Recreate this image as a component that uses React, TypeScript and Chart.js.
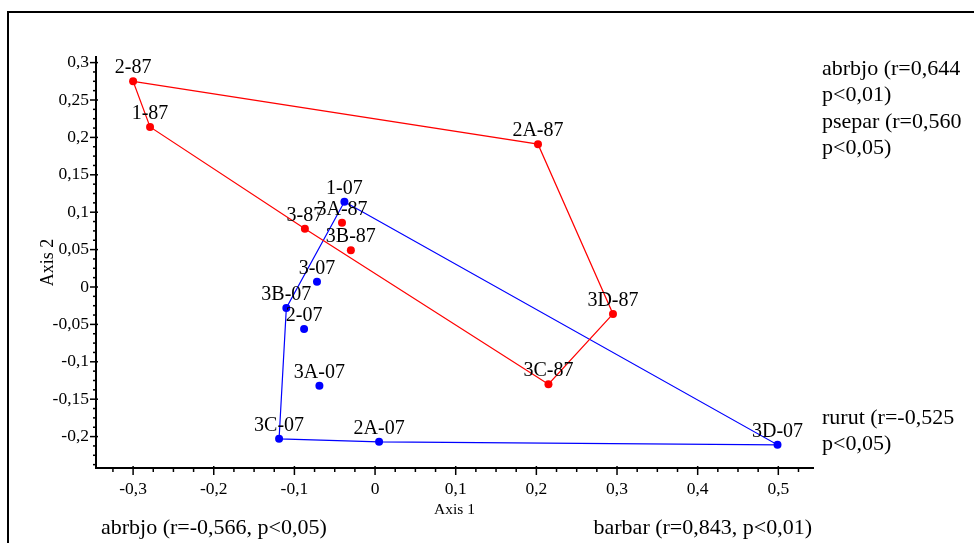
import React, { useEffect, useRef } from "react";
import { Chart, registerables } from "chart.js";

Chart.register(...registerables);

const FONT = '"Liberation Serif", "Times New Roman", serif';

// ---- data (1987) ----
const labels87 = ["2-87", "1-87", "2A-87", "3D-87", "3C-87", "3-87", "3A-87", "3B-87"];
const axis1_87 = [-0.3, -0.279, 0.202, 0.295, 0.215, -0.087, -0.041, -0.03];
const axis2_87 = [0.275, 0.214, 0.191, -0.036, -0.13, 0.078, 0.086, 0.049];
const hull87 = ["2-87", "2A-87", "3D-87", "3C-87", "3-87", "1-87", "2-87"];

// ---- data (2007) ----
const labels07 = ["1-07", "3-07", "3B-07", "2-07", "3A-07", "3C-07", "2A-07", "3D-07"];
const axis1_07 = [-0.038, -0.072, -0.11, -0.088, -0.069, -0.119, 0.005, 0.499];
const axis2_07 = [0.114, 0.007, -0.028, -0.056, -0.132, -0.203, -0.207, -0.211];
const hull07 = ["1-07", "3D-07", "2A-07", "3C-07", "3B-07", "1-07"];

// ---- annotation texts ----
const notesRightTop = ["abrbjo (r=0,644", "p<0,01)", "psepar (r=0,560", "p<0,05)"];
const notesRightBottom = ["rurut (r=-0,525", "p<0,05)"];
const noteBottomLeft = "abrbjo (r=-0,566, p<0,05)";
const noteBottomRight = "barbar (r=0,843, p<0,01)";

// ---- axis settings ----
const X_MIN = -0.346;
const X_MAX = 0.543;
const X_MAJOR = 0.1;
const X_MINOR = 0.025;
const Y_MIN = -0.242;
const Y_MAX = 0.3075;
const Y_MAJOR = 0.05;
const Y_MINOR = 0.0125;

const points = (xs: number[], ys: number[]) => xs.map((x, i) => ({ x, y: ys[i] }));
const hullPoints = (order: string[], labels: string[], xs: number[], ys: number[]) =>
  order.map((l) => {
    const i = labels.indexOf(l);
    return { x: xs[i], y: ys[i] };
  });

const steps = (min: number, max: number, step: number) => {
  const out: { value: number }[] = [];
  for (let k = Math.ceil(min / step - 1e-9); k * step <= max + 1e-9; k++) {
    out.push({ value: Math.round(k * step * 1e6) / 1e6 });
  }
  return out;
};
const isMajor = (v: number, major: number) => Math.abs(v / major - Math.round(v / major)) < 1e-6;
const fmt = (v: number) => String(Math.round(v * 100) / 100).replace(".", ",");

const tickPlugin = {
  id: "customTicks",
  afterDraw(chart: any) {
    const ctx = chart.ctx;
    const xs = chart.scales.x;
    const ys = chart.scales.y;
    const ax = chart.chartArea.left;
    const ay = chart.chartArea.bottom;
    ctx.save();
    ctx.strokeStyle = "#000";
    ctx.lineWidth = 1.5;
    ys.ticks.forEach((t: any) => {
      const p = ys.getPixelForValue(t.value);
      ctx.beginPath();
      if (isMajor(t.value, Y_MAJOR)) {
        ctx.moveTo(ax - 6, p);
        ctx.lineTo(ax + 2, p);
      } else {
        ctx.moveTo(ax - 3, p);
        ctx.lineTo(ax, p);
      }
      ctx.stroke();
    });
    xs.ticks.forEach((t: any) => {
      const p = xs.getPixelForValue(t.value);
      ctx.beginPath();
      if (isMajor(t.value, X_MAJOR)) {
        ctx.moveTo(p, ay - 2);
        ctx.lineTo(p, ay + 7);
      } else {
        ctx.moveTo(p, ay);
        ctx.lineTo(p, ay + 4);
      }
      ctx.stroke();
    });
    ctx.restore();
  },
};

const labelPlugin = {
  id: "pointLabels",
  afterDatasetsDraw(chart: any) {
    const ctx = chart.ctx;
    const sets = [labels87, labels07];
    ctx.save();
    ctx.font = `20px ${FONT}`;
    ctx.fillStyle = "#000";
    ctx.textAlign = "center";
    ctx.textBaseline = "alphabetic";
    sets.forEach((labels, di) => {
      const meta = chart.getDatasetMeta(di);
      meta.data.forEach((el: any, i: number) => {
        ctx.fillText(labels[i], el.x, el.y - 8);
      });
    });
    ctx.restore();
  },
};

const notesPlugin = {
  id: "notes",
  afterDraw(chart: any) {
    const ctx = chart.ctx;
    const area = chart.chartArea;
    ctx.save();
    ctx.font = `22px ${FONT}`;
    ctx.fillStyle = "#000";
    ctx.textBaseline = "middle";
    ctx.textAlign = "left";
    notesRightTop.forEach((t, i) => ctx.fillText(t, area.right + 9, area.top + 12 + i * 26.5));
    notesRightBottom.forEach((t, i) => ctx.fillText(t, area.right + 9, area.bottom - 50 + i * 26.5));
    ctx.fillText(noteBottomLeft, area.left + 5, area.bottom + 60);
    ctx.textAlign = "right";
    ctx.fillText(noteBottomRight, area.right - 1, area.bottom + 60);
    ctx.restore();
  },
};

export default function App() {
  const ref = useRef<HTMLCanvasElement | null>(null);

  useEffect(() => {
    if (!ref.current) return;
    Chart.defaults.font.family = FONT;
    Chart.defaults.color = "#000";
    const chart = new Chart(ref.current, {
      type: "scatter",
      data: {
        datasets: [
          {
            label: "1987",
            data: points(axis1_87, axis2_87),
            backgroundColor: "#ff0000",
            borderColor: "#ff0000",
            borderWidth: 0,
            pointRadius: 4,
            showLine: false,
          },
          {
            label: "2007",
            data: points(axis1_07, axis2_07),
            backgroundColor: "#0000ff",
            borderColor: "#0000ff",
            borderWidth: 0,
            pointRadius: 4,
            showLine: false,
          },
          {
            label: "hull 1987",
            data: hullPoints(hull87, labels87, axis1_87, axis2_87),
            borderColor: "#ff0000",
            borderWidth: 1.2,
            pointRadius: 0,
            showLine: true,
            tension: 0,
          },
          {
            label: "hull 2007",
            data: hullPoints(hull07, labels07, axis1_07, axis2_07),
            borderColor: "#0000ff",
            borderWidth: 1.2,
            pointRadius: 0,
            showLine: true,
            tension: 0,
          },
        ],
      },
      options: {
        animation: false,
        responsive: false,
        events: [],
        layout: { padding: { top: 57, right: 161, bottom: 0, left: 0 } },
        plugins: {
          legend: { display: false },
          tooltip: { enabled: false },
        },
        scales: {
          x: {
            type: "linear",
            position: "bottom",
            min: X_MIN,
            max: X_MAX,
            afterBuildTicks: (s: any) => {
              s.ticks = steps(X_MIN, X_MAX, X_MINOR);
            },
            afterFit: (s: any) => {
              s.height = 75;
            },
            grid: { display: true, drawOnChartArea: false, drawTicks: false, color: "rgba(0,0,0,0)" },
            border: { display: true, color: "#000", width: 2 },
            ticks: {
              autoSkip: false,
              maxRotation: 0,
              padding: 11,
              color: "#000",
              font: { size: 17.5, family: FONT },
              callback: (v: any) => (isMajor(Number(v), X_MAJOR) ? fmt(Number(v)) : ""),
            },
            title: {
              display: true,
              text: "Axis 1",
              color: "#000",
              font: { size: 15.5, family: FONT },
              padding: { top: 0, bottom: 23.5 },
            },
          },
          y: {
            type: "linear",
            position: "left",
            min: Y_MIN,
            max: Y_MAX,
            afterBuildTicks: (s: any) => {
              s.ticks = steps(Y_MIN, Y_MAX, Y_MINOR);
            },
            afterFit: (s: any) => {
              s.width = 96;
            },
            grid: { display: true, drawOnChartArea: false, drawTicks: false, color: "rgba(0,0,0,0)" },
            border: { display: true, color: "#000", width: 2 },
            ticks: {
              autoSkip: false,
              padding: 7,
              color: "#000",
              font: { size: 17.5, family: FONT },
              callback: (v: any) => (isMajor(Number(v), Y_MAJOR) ? fmt(Number(v)) : ""),
            },
            title: {
              display: true,
              text: "Axis 2",
              color: "#000",
              font: { size: 18, family: FONT },
              padding: { top: 37, bottom: 0 },
            },
          },
        },
      },
      plugins: [tickPlugin, labelPlugin, notesPlugin],
    } as any);
    return () => chart.destroy();
  }, []);

  return (
    <div
      style={{
        position: "fixed",
        left: 0,
        top: 0,
        width: 974,
        height: 543,
        overflow: "hidden",
        background: "#fff",
      }}
    >
      <div
        style={{
          position: "absolute",
          left: 7,
          top: 11,
          width: 1100,
          height: 700,
          border: "2px solid #000",
        }}
      />
      <canvas
        ref={ref}
        width={974}
        height={543}
        style={{ position: "absolute", left: 0, top: 0, width: 974, height: 543, display: "block" }}
      />
    </div>
  );
}
